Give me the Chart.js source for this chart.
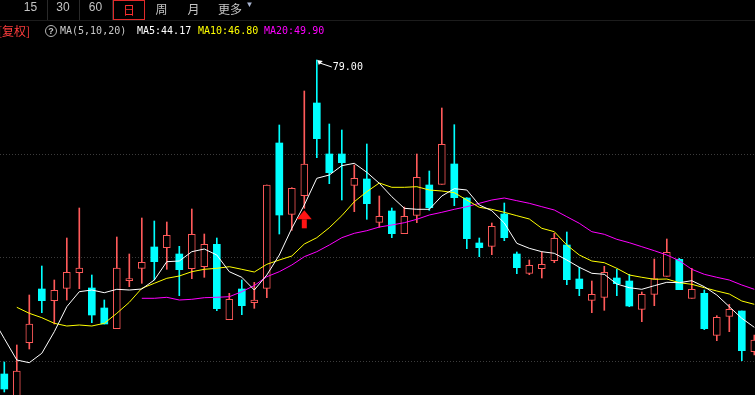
<!DOCTYPE html>
<html>
<head>
<meta charset="utf-8">
<script src="https://cdn.jsdelivr.net/npm/chart.js@4/dist/chart.umd.min.js"></script>
<style>
  html, body { margin: 0; padding: 0; background: #000; }
  #wrap { position: relative; width: 755px; height: 395px; overflow: hidden; background: #000; }
  #wrap canvas { position: absolute; left: 0; top: 0; }
  .t { position: absolute; white-space: nowrap; }
  .tab { top: 0; height: 19px; line-height: 17px; text-align: center; color: #c4c4c4;
         font: 12px "Liberation Sans", Arial, sans-serif; }
  .cjk { font-family: "Noto Sans CJK SC", sans-serif; font-size: 12px; }
  .sep { position: absolute; top: 0; width: 1px; height: 20px; background: #2a2a2a; }
  .mono { font: 10px "DejaVu Sans Mono", monospace; top: 25px; line-height: 12px; }
</style>
</head>
<body>
<div id="wrap">
  <canvas id="kline" width="755" height="395"></canvas>

  <!-- period tabs -->
  <div class="sep" style="left:0;top:20px;width:755px;height:1px;background:#1c1c1c"></div>
  <div class="t tab" style="left:14px;width:33px">15</div>
  <div class="sep" style="left:47px"></div>
  <div class="t tab" style="left:47px;width:32px">30</div>
  <div class="sep" style="left:79px"></div>
  <div class="t tab" style="left:79px;width:33px">60</div>
  <div class="sep" style="left:112px"></div>
  <div class="t tab cjk" style="left:113px;width:30px;height:18px;border:1px solid #e02a2a;color:#ff3030">日</div>
  <div class="t tab cjk" style="left:146px;width:31px">周</div>
  <div class="t tab cjk" style="left:178px;width:31px">月</div>
  <div class="t tab cjk" style="left:216px;width:28px">更多</div>
  <div class="t tab" style="left:245px;width:9px;font-size:8px;color:#a8b4d0">▼</div>

  <!-- indicator line -->
  <div class="t cjk" style="left:-2px;top:22px;color:#ff3c3c;line-height:17px">[复权]</div>
  <div class="t" style="left:45px;top:25px;width:10px;height:10px;border:1px solid #b4b4b4;border-radius:50%;
       color:#c8c8c8;font:bold 9px 'Liberation Sans',sans-serif;line-height:10px;text-align:center">?</div>
  <div class="t mono" style="left:60px;color:#c8c8c8">MA(5,10,20)</div>
  <div class="t mono" style="left:137px;color:#ffffff">MA5:44.17</div>
  <div class="t mono" style="left:198px;color:#ffff00">MA10:46.80</div>
  <div class="t mono" style="left:264px;color:#ff00ff">MA20:49.90</div>
</div>

<script>
// daily candles, oldest first (prices)
const opens  = [38.18, 34.80, 42.25, 49.23, 47.71, 49.32, 51.35, 49.36, 46.76, 44.07,
                50.31, 51.92, 54.69, 54.60, 53.78, 51.87, 52.13, 55.04, 45.24, 49.23,
                47.45, 49.32, 68.21, 58.94, 61.36, 73.41, 66.78, 66.78, 62.71, 63.53,
                57.90, 59.37, 56.42, 58.81, 62.75, 62.84, 65.48, 61.06, 55.21, 54.78,
                58.98, 53.78, 51.27, 51.87, 52.91, 54.95, 50.53, 47.76, 48.15, 50.66,
                50.27, 46.59, 48.54, 50.88, 53.09, 48.02, 48.67, 43.21, 45.68, 46.37, 41.08];
const highs  = [39.74, 41.95, 48.45, 52.22, 50.40, 55.86, 59.76, 51.05, 47.80, 55.99,
                53.78, 58.46, 58.07, 57.94, 54.78, 59.63, 56.38, 55.86, 48.67, 50.40,
                50.10, 62.75, 70.55, 62.40, 74.97, 79.00, 70.68, 69.90, 65.35, 68.08,
                61.32, 59.76, 59.89, 66.78, 64.57, 72.76, 70.59, 61.10, 55.86, 57.81,
                60.41, 54.04, 53.00, 54.04, 56.47, 56.64, 52.05, 50.27, 52.18, 51.79,
                51.14, 48.84, 53.13, 55.73, 53.22, 51.92, 49.10, 45.76, 47.24, 46.37, 43.25];
const lows   = [35.84, 34.15, 41.43, 46.15, 44.68, 47.80, 49.27, 44.85, 44.68, 44.07,
                49.53, 49.97, 50.40, 51.79, 48.36, 50.57, 50.75, 46.41, 45.24, 45.89,
                46.72, 48.10, 56.38, 56.86, 59.72, 66.30, 62.92, 60.80, 59.28, 58.29,
                57.25, 55.90, 56.42, 57.85, 59.46, 62.84, 60.06, 54.47, 53.43, 53.69,
                55.51, 51.22, 51.09, 50.66, 52.65, 49.79, 48.36, 46.15, 46.46, 48.36,
                46.93, 44.98, 47.06, 50.88, 49.14, 48.02, 43.94, 42.51, 43.68, 39.91, 40.65];
const closes = [36.23, 38.57, 44.68, 47.71, 49.06, 51.40, 51.96, 45.85, 44.68, 51.96,
                50.57, 52.70, 52.78, 56.21, 51.74, 56.34, 55.04, 46.67, 47.89, 47.06,
                47.80, 62.75, 58.85, 62.32, 65.48, 68.77, 64.35, 65.65, 63.62, 60.32,
                58.68, 56.42, 58.68, 63.75, 59.80, 68.04, 61.10, 55.77, 54.60, 57.38,
                55.90, 52.00, 52.31, 52.44, 55.82, 50.44, 49.27, 48.54, 51.40, 49.92,
                47.02, 48.54, 50.57, 54.00, 49.14, 49.19, 44.07, 45.55, 46.59, 41.21, 42.60];

// moving averages as drawn; each list starts at the given candle index
const ma5Start = -1;
const ma5  = [45.59, 42.79, 40.00, 39.65, 40.87, 43.68, 46.93, 48.88, 49.10, 48.75, 49.19,
              49.10, 49.23, 50.40, 52.78, 52.87, 54.08, 54.43, 53.65, 51.48, 50.75,
              49.10, 51.05, 53.65, 57.12, 60.15, 63.62, 64.05, 65.26, 65.57, 64.40,
              62.97, 61.23, 59.72, 59.59, 59.59, 61.32, 62.27, 62.10, 60.15, 59.41,
              57.81, 55.17, 54.52, 54.08, 53.87, 53.00, 52.05, 51.27, 51.14, 49.88,
              49.40, 49.19, 49.66, 50.10, 50.05, 50.31, 49.53, 48.45, 46.93, 45.42, 44.25];
const ma10Start = 1;
const ma10 = [46.85, 46.07, 45.50, 44.77, 44.42, 44.55, 44.42, 44.77, 46.07, 47.50,
              49.32, 49.97, 50.62, 50.92, 51.48, 51.79, 51.92, 52.13, 51.79, 51.44,
              52.44, 53.00, 53.52, 55.08, 55.90, 57.20, 58.76, 60.58, 61.88, 63.01,
              62.45, 62.45, 62.53, 62.10, 61.97, 61.75, 60.80, 59.85, 59.59, 59.20,
              58.76, 58.33, 57.12, 56.68, 54.95, 53.65, 52.87, 52.65, 51.92, 51.05,
              50.75, 50.49, 50.53, 50.05, 49.84, 49.40, 48.97, 48.58, 47.67, 47.24];
const ma20Start = 11;
const ma20 = [48.02, 48.02, 48.15, 47.80, 47.89, 48.10, 48.15, 48.23, 48.88, 49.68,
              50.83, 51.48, 52.35, 53.43, 54.08, 54.95, 55.90, 56.47, 56.81, 57.29,
              57.55, 57.85, 58.29, 58.85, 59.20, 59.59, 59.93, 60.37, 60.80, 61.06,
              60.71, 60.37, 59.93, 59.50, 58.63, 57.77, 56.68, 56.34, 55.69, 55.25,
              54.73, 54.21, 53.65, 52.91, 51.79, 51.14, 50.75, 50.40, 49.75, 49.19];

// dotted horizontal grid levels
const gridLevels = [66.74, 53.35, 39.83];
// candle with the red buy arrow under it
const signalIndex = 24;

const UP = '#ff5a5a', DOWN = '#00ffff';
const idx = opens.map((_, i) => i);
const isUp = idx.map(i => closes[i] >= opens[i]);
const toPts = (arr, start) => arr.map((v, i) => ({ x: i + start, y: v }));

// red arrow under the signal candle + white marker at the highest high
const markers = {
  id: 'markers',
  afterDatasetsDraw(chart) {
    const { ctx, scales: { x, y } } = chart;
    ctx.save();

    const ax = x.getPixelForValue(signalIndex);
    const ay = y.getPixelForValue(lows[signalIndex]) + 2;
    ctx.fillStyle = '#ff1414';
    ctx.beginPath();
    ctx.moveTo(ax, ay);
    ctx.lineTo(ax + 7.5, ay + 9);
    ctx.lineTo(ax - 7.5, ay + 9);
    ctx.closePath();
    ctx.fill();
    ctx.fillRect(ax - 2.5, ay + 9, 5, 9);

    let top = 0;
    highs.forEach((h, i) => { if (h > highs[top]) top = i; });
    const px = x.getPixelForValue(top), py = y.getPixelForValue(highs[top]);
    ctx.fillStyle = '#fff';
    ctx.strokeStyle = '#fff';
    ctx.lineWidth = 1;
    ctx.beginPath();
    ctx.moveTo(px + 0.5, py);
    ctx.lineTo(px + 6, py + 1);
    ctx.lineTo(px + 2, py + 5);
    ctx.closePath();
    ctx.fill();
    ctx.beginPath();
    ctx.moveTo(px + 3, py + 3);
    ctx.lineTo(px + 15, py + 7);
    ctx.stroke();
    ctx.font = '10px "DejaVu Sans Mono", monospace';
    ctx.textBaseline = 'middle';
    ctx.fillText(highs[top].toFixed(2), px + 16, py + 7);
    ctx.restore();
  }
};

new Chart(document.getElementById('kline'), {
  type: 'bar',
  data: {
    datasets: [
      { type: 'line', label: 'MA5', data: toPts(ma5, ma5Start), borderColor: '#ffffff',
        borderWidth: 1, pointRadius: 0, tension: 0 },
      { type: 'line', label: 'MA10', data: toPts(ma10, ma10Start), borderColor: '#ffff00',
        borderWidth: 1, pointRadius: 0, tension: 0 },
      { type: 'line', label: 'MA20', data: toPts(ma20, ma20Start), borderColor: '#ff00ff',
        borderWidth: 1, pointRadius: 0, tension: 0 },
      { label: 'body', data: idx.map(i => ({ x: i, y: [opens[i], closes[i]] })),
        backgroundColor: idx.map(i => isUp[i] ? '#000' : DOWN),
        borderColor: idx.map(i => isUp[i] ? UP : DOWN),
        borderWidth: idx.map(i => isUp[i] ? 1 : 0),
        borderSkipped: false, barThickness: 7, grouped: false },
      { label: 'wick', data: idx.map(i => ({ x: i, y: [lows[i], highs[i]] })),
        backgroundColor: idx.map(i => isUp[i] ? UP : DOWN),
        barThickness: 1, grouped: false }
    ]
  },
  options: {
    responsive: false,
    animation: false,
    events: [],
    layout: { padding: 0 },
    plugins: { legend: { display: false }, tooltip: { enabled: false } },
    scales: {
      x: { type: 'linear', min: -0.344, max: 60.056, offset: false, display: false },
      y: {
        min: 35.45, max: 86.8,
        afterFit: s => { s.width = 0; },
        afterBuildTicks: s => { s.ticks = gridLevels.map(v => ({ value: v })); },
        ticks: { display: false },
        grid: { color: '#3c3c3c', drawTicks: false },
        border: { display: false, dash: [1, 2] }
      }
    }
  },
  plugins: [markers]
});
</script>
</body>
</html>
